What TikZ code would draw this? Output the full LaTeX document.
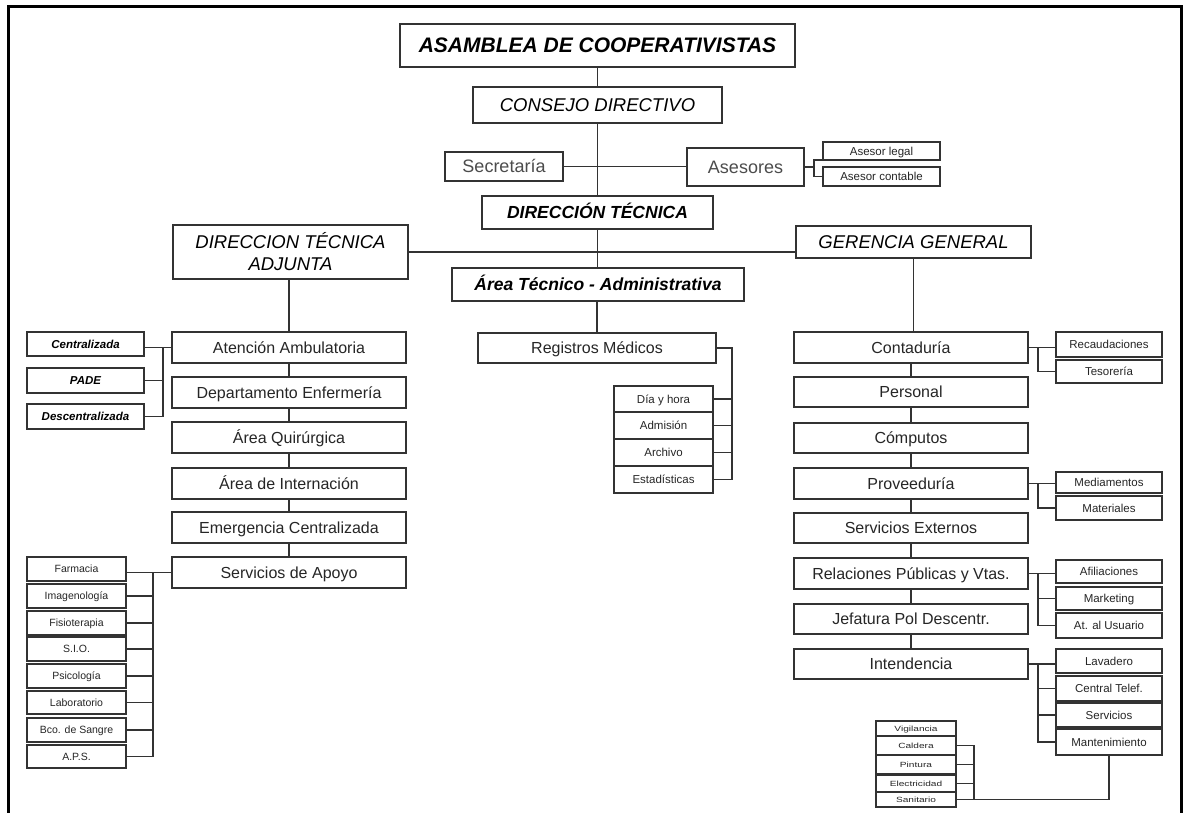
\documentclass[tikz,border=0pt]{standalone}
\usepackage{fontspec}
\setmainfont{Liberation Sans}
\usepackage{graphicx}
\begin{document}
\begin{tikzpicture}[x=1pt,y=-1pt,
  every node/.style={inner sep=0pt, outer sep=0pt},
  box/.style={draw=black!80, line width=1.3pt, fill=white, align=center, text=black!85,
    text depth=0pt},
  toptitle/.style={box, font=\fontsize{21}{24}\selectfont\bfseries\itshape, text=black, text height=15pt},
  headi/.style={box, font=\fontsize{18.5}{21}\selectfont\itshape, text=black, text height=13.2pt},
  twoline/.style={draw=black!80, line width=1.3pt, fill=white, align=center, text=black,
    font=\fontsize{18.5}{22}\selectfont\itshape},
  headb/.style={box, font=\fontsize{17.5}{21}\selectfont\bfseries\itshape, text=black, text height=12.5pt},
  unit/.style={box, font=\fontsize{16}{18}\selectfont, text height=11.5pt},
  aside/.style={box, font=\fontsize{18}{20}\selectfont, text=black!70, text height=12.9pt},
  small/.style={box, font=\fontsize{11.5}{13}\selectfont, text height=8.2pt},
  smalllist/.style={box, font=\fontsize{10.5}{12}\selectfont, text height=7.5pt},
  smallbi/.style={box, font=\fontsize{11.5}{13}\selectfont\bfseries\itshape, text=black, text height=8.2pt},
  tiny/.style={box, line width=1.1pt, font=\fontsize{7.5}{9}\selectfont, text height=5.4pt},
  link/.style={draw=black!80, line width=1.1pt},
]
% box: style, name, left, top, right, bottom, text
\newcommand{\obox}[7]{\node[#1, minimum width={(#5-#3)*1pt}, minimum height={(#6-#4)*1pt}] (#2) at ({(#3+#5)/2},{(#4+#6)/2}) {#7};}

\useasboundingbox (0,0) rectangle (1186,813);
\clip (0,0) rectangle (1186,813);
\fill[white] (0,0) rectangle (1186,813);
% outer frame, open at the bottom edge
\draw[line width=3pt] (8,830) -- (8,6.5) -- (1181,6.5) -- (1181,830);

% bus positions
\coordinate (busA) at (163,0);
\coordinate (busB) at (153,0);
\coordinate (busM) at (732,0);
\coordinate (busR) at (1038,0);
\coordinate (busV) at (974,0);
\coordinate (busS) at (814,0);

% governing bodies
\obox{toptitle}{asam}{400}{24}{795}{67}{ASAMBLEA DE COOPERATIVISTAS}
\obox{headi}{cons}{473}{87}{722}{123}{CONSEJO DIRECTIVO}
\obox{aside}{secr}{445}{152}{563}{181}{Secretaría}
\obox{aside}{ases}{687}{148}{804}{186}{Asesores}
\obox{small}{legal}{823}{142}{940}{160}{Asesor legal}
\obox{small}{contab}{823}{167}{940}{186}{Asesor contable}
\obox{headb}{dt}{482}{196}{713}{229}{DIRECCIÓN TÉCNICA}
\obox{twoline}{adj}{173}{225}{408}{279}{DIRECCION TÉCNICA\\ADJUNTA}
\obox{headi}{ger}{796}{226}{1031}{258}{GERENCIA GENERAL}
\obox{headb}{ata}{452}{268}{744}{301}{Área Técnico - Administrativa}

% medical branch
\obox{unit}{aa}{172}{332}{406}{363}{Atención Ambulatoria}
\obox{unit}{de}{172}{377}{406}{408}{Departamento Enfermería}
\obox{unit}{aq}{172}{422}{406}{453}{Área Quirúrgica}
\obox{unit}{ai}{172}{468}{406}{499}{Área de Internación}
\obox{unit}{ec}{172}{512}{406}{543}{Emergencia Centralizada}
\obox{unit}{sa}{172}{557}{406}{588}{Servicios de Apoyo}

\obox{smallbi}{cen}{27}{332}{144}{356}{Centralizada}
\obox{smallbi}{pade}{27}{368}{144}{393}{PADE}
\obox{smallbi}{desc}{27}{404}{144}{429}{Descentralizada}

\obox{smalllist}{farm}{27}{557}{126}{581}{Farmacia}
\obox{smalllist}{imag}{27}{584}{126}{608}{Imagenología}
\obox{smalllist}{fis}{27}{611}{126}{635}{Fisioterapia}
\obox{smalllist}{sio}{27}{637}{126}{661}{S.I.O.}
\obox{smalllist}{psi}{27}{664}{126}{688}{Psicología}
\obox{smalllist}{lab}{27}{691}{126}{714}{Laboratorio}
\obox{smalllist}{bco}{27}{718}{126}{742}{Bco. de Sangre}
\obox{smalllist}{aps}{27}{745}{126}{768}{A.P.S.}

% records
\obox{unit}{rm}{478}{333}{716}{363}{Registros Médicos}
\obox{small}{dia}{614}{386}{713}{412}{Día y hora}
\obox{small}{adm}{614}{412}{713}{439}{Admisión}
\obox{small}{arch}{614}{439}{713}{466}{Archivo}
\obox{small}{est}{614}{466}{713}{493}{Estadísticas}

% management branch
\obox{unit}{cont}{794}{332}{1028}{363}{Contaduría}
\obox{unit}{pers}{794}{377}{1028}{407}{Personal}
\obox{unit}{comp}{794}{423}{1028}{453}{Cómputos}
\obox{unit}{prov}{794}{468}{1028}{499}{Proveeduría}
\obox{unit}{se}{794}{513}{1028}{543}{Servicios Externos}
\obox{unit}{rp}{794}{558}{1028}{589}{Relaciones Públicas y Vtas.}
\obox{unit}{jef}{794}{604}{1028}{634}{Jefatura Pol Descentr.}
\obox{unit}{int}{794}{649}{1028}{679}{Intendencia}

\obox{small}{rec}{1056}{332}{1162}{357}{Recaudaciones}
\obox{small}{tes}{1056}{360}{1162}{383}{Tesorería}
\obox{small}{med}{1056}{472}{1162}{493}{Mediamentos}
\obox{small}{mat}{1056}{496}{1162}{520}{Materiales}
\obox{small}{afi}{1056}{560}{1162}{583}{Afiliaciones}
\obox{small}{mkt}{1056}{587}{1162}{610}{Marketing}
\obox{small}{usu}{1056}{613}{1162}{638}{At. al Usuario}
\obox{small}{lav}{1056}{649}{1162}{673}{Lavadero}
\obox{small}{tel}{1056}{676}{1162}{701}{Central Telef.}
\obox{small}{serv}{1056}{703}{1162}{727}{Servicios}
\obox{small}{mant}{1056}{729}{1162}{755}{Mantenimiento}

\obox{tiny}{vig}{876}{721}{956}{736}{\scalebox{1.35}[1]{Vigilancia}}
\obox{tiny}{cald}{876}{736}{956}{755}{\scalebox{1.35}[1]{Caldera}}
\obox{tiny}{pint}{876}{755}{956}{774}{\scalebox{1.35}[1]{Pintura}}
\obox{tiny}{elec}{876}{775}{956}{792}{\scalebox{1.35}[1]{Electricidad}}
\obox{tiny}{san}{876}{792}{956}{807}{\scalebox{1.35}[1]{Sanitario}}

% main spine
\draw[link] (asam.south) -- (cons.north);
\draw[link] (cons.south) -- (cons.south |- dt.north);
\draw[link] (secr.east) -- (secr.east -| ases.west);
\draw[link] (dt.south) -- (dt.south |- ata.north);
\draw[link] (adj.east) -- (adj.east -| ger.west);
\draw[link] (ata.south -| rm.north) -- (rm.north);

% advisers
\draw[link] (ases.east) -- (ases.east -| busS);
\draw[link] (ases.east -| busS) |- (legal.south west);
\draw[link] (ases.east -| busS) |- (contab.west);

% medical branch
\draw[link] (adj.south -| aa.north) -- (aa.north);
\foreach \a/\b in {aa/de, de/aq, aq/ai, ai/ec, ec/sa}
  \draw[link] (\a.south) -- (\b.north);
\draw[link] (aa.west) -- (aa.west -| cen.east);
\foreach \k in {pade, desc}
  \draw[link] (aa.west -| busA) |- (\k.east);
\draw[link] (sa.west) -- (sa.west -| farm.east);
\foreach \k in {imag, fis, sio, psi, lab, bco, aps}
  \draw[link] (sa.west -| busB) |- (\k.east);

% records
\draw[link] (rm.east) -| (busM |- est.east) -- (est.east);
\foreach \k in {dia, adm, arch}
  \draw[link] (\k.east) -- (\k.east -| busM);

% management branch
\draw[link] (ger.south) -- (ger.south |- cont.north);
\foreach \a/\b in {cont/pers, pers/comp, comp/prov, prov/se, se/rp, rp/jef, jef/int}
  \draw[link] (\a.south) -- (\a.south |- \b.north);
\draw[link] (cont.east) -- (cont.east -| rec.west);
\draw[link] (cont.east -| busR) |- (tes.west);
\draw[link] (prov.east) -- (prov.east -| med.west);
\draw[link] (prov.east -| busR) |- (mat.west);
\draw[link] (rp.east) -- (rp.east -| afi.west);
\foreach \k in {mkt, usu}
  \draw[link] (rp.east -| busR) |- (\k.west);
\draw[link] (int.east) -- (int.east -| lav.west);
\foreach \k in {tel, serv, mant}
  \draw[link] (int.east -| busR) |- (\k.west);

% maintenance crews
\draw[link] (mant.south) |- (san.east);
\draw[link] (cald.east) -| (busV |- san.east);
\foreach \k in {pint, elec}
  \draw[link] (\k.east) -- (\k.east -| busV);
\end{tikzpicture}
\end{document}
